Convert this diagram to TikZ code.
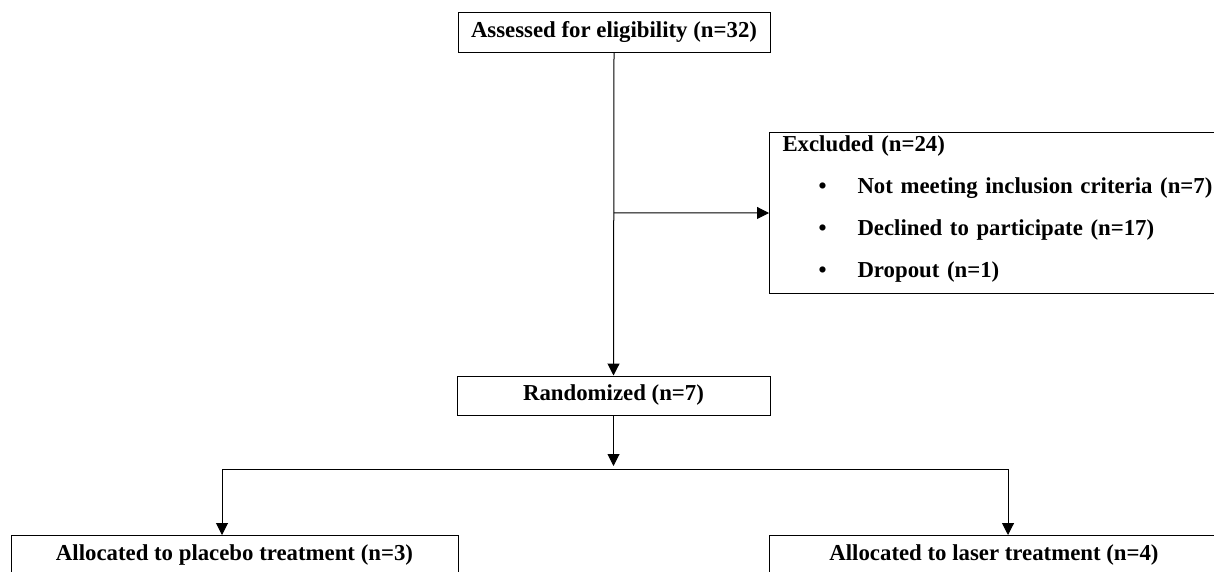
\documentclass[tikz,border=0pt]{standalone}
\usepackage{fontspec}
\setmainfont{Liberation Serif}
\usetikzlibrary{arrows.meta,calc}
\begin{document}
\begin{tikzpicture}[x=1pt,y=-1pt,
    box/.style={draw,line width=1pt,font=\fontsize{22.8}{26}\selectfont\bfseries,inner sep=0pt},
    arr/.style={line width=1pt,-{Triangle[width=12pt,length=12pt]}}]
        \useasboundingbox (0,0) rectangle (1214,571);
        %boxes
        \node[box,minimum width=312,minimum height=40] (assess) at (614,32) {Assessed for eligibility (n=32)};
        \node[box,minimum height=161,text width=451,align=left,anchor=north west,
              font=\fontsize{22.8}{42}\selectfont\bfseries] (excl) at (769,132)
              {\hspace*{13pt}Excluded (n=24)\\
               \hspace*{49pt}\makebox[39pt][l]{\textbullet}Not meeting inclusion criteria (n=7)\\
               \hspace*{49pt}\makebox[39pt][l]{\textbullet}Declined to participate (n=17)\\
               \hspace*{49pt}\makebox[39pt][l]{\textbullet}Dropout (n=1)\\[-30pt]\mbox{}};
        \node[box,minimum width=313,minimum height=39] (rand) at (613.5,395.5) {Randomized (n=7)};
        \node[box,minimum width=447,minimum height=40,anchor=north] (placebo) at (234.5,535) {Allocated to placebo treatment (n=3)};
        \node[box,minimum width=450,minimum height=40,anchor=north] (laser) at (994,535) {Allocated to laser treatment (n=4)};
        %arrows
        \draw[arr] (assess.south) -- (rand.north);
        \coordinate (branch) at ($(assess.south)!(excl.west)!(rand.north)$);
        \draw[arr] (branch) -- (excl.west);
        \coordinate (split) at (613.5,469);
        \draw[arr] (rand.south) -- ($(split)+(0,-3)$);
        \coordinate (splitL) at (222,469);
        \coordinate (splitR) at (1008,469);
        \draw[line width=1pt] (splitL) -- (splitR);
        \draw[arr] (splitL) -- (splitL |- placebo.north);
        \draw[arr] (splitR) -- (splitR |- laser.north);
\end{tikzpicture}
\end{document}
